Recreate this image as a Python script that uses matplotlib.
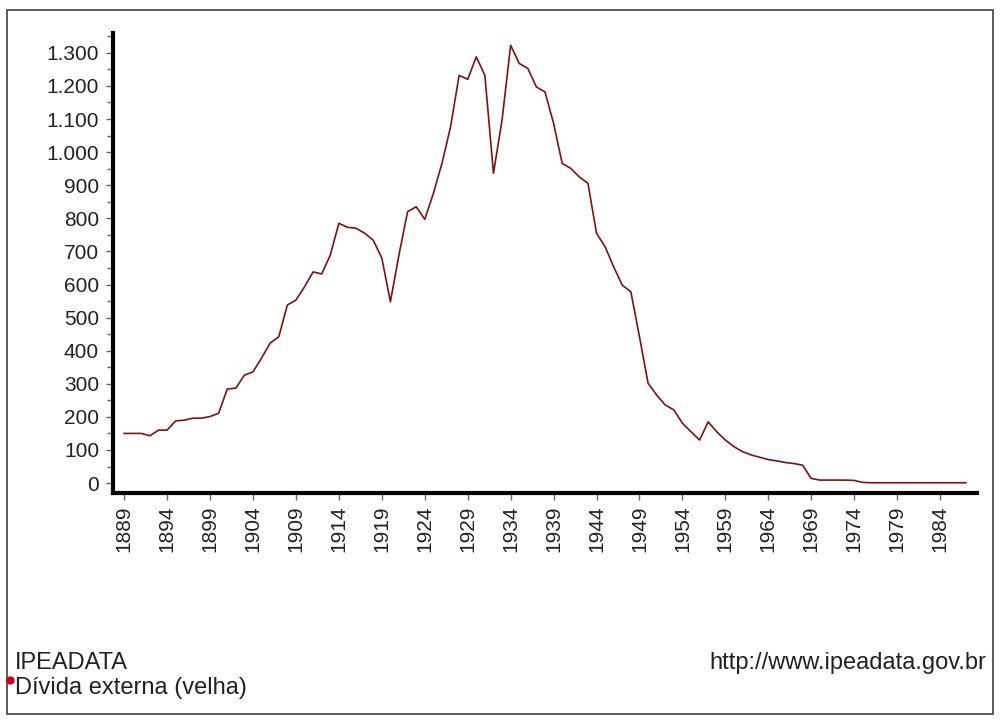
import matplotlib
matplotlib.use("Agg")
import matplotlib.pyplot as plt
from matplotlib.patches import Rectangle
from matplotlib.ticker import MultipleLocator, FixedLocator, FuncFormatter

years = list(range(1889, 1988))
values = [150, 150, 150, 143, 160, 160, 188, 190, 196, 196, 201, 211,
          284, 287, 326, 336, 378, 423, 442, 538, 553, 593, 638, 632,
          689, 785, 773, 770, 755, 734, 680, 548, 690, 820, 835, 797,
          875, 966, 1076, 1232, 1220, 1288, 1232, 936, 1097, 1323, 1268,
          1253, 1197, 1182, 1087, 966, 951, 925, 906, 755, 714, 653, 598,
          578, 442, 302, 266, 236, 221, 181, 155, 130, 185, 155, 130, 110,
          95, 85, 78, 71, 67, 62, 59, 54, 14, 9, 9, 9, 9, 8, 2, 1, 1, 1,
          1, 1, 1, 1, 1, 1, 1, 1, 1]
year_ticks = list(range(1889, 1988, 5))
y_ticks = list(range(0, 1301, 100))

W, H = 1000, 722
fig = plt.figure(figsize=(W / 100, H / 100), dpi=100)
fig.patch.set_facecolor("white")
plt.rcParams['font.family'] = ['Liberation Sans', 'DejaVu Sans']

# outer frame
fig.add_artist(Rectangle((7 / W, 1 - 714 / H), (993 - 7) / W, (714 - 10) / H,
                         transform=fig.transFigure, fill=False,
                         edgecolor="#404040", linewidth=1.2))

left, right, top, bottom = 113, 977, 33, 493
ax = fig.add_axes([left / W, 1 - bottom / H, (right - left) / W, (bottom - top) / H])
ax.plot(years, values, color="#7a1414", linewidth=1.2)

ax.set_xlim(1887.7, 1988.3)
ax.set_ylim(-30, 1360)
for s in ["top", "right"]:
    ax.spines[s].set_visible(False)
for s in ["left", "bottom"]:
    ax.spines[s].set_linewidth(3)
    ax.spines[s].set_color("black")

ax.yaxis.set_major_locator(FixedLocator(y_ticks))
ax.yaxis.set_minor_locator(MultipleLocator(50))
ax.yaxis.set_major_formatter(FuncFormatter(lambda v, p: f"{int(v):,}".replace(",", ".")))
ax.xaxis.set_major_locator(FixedLocator(year_ticks))
ax.set_xticklabels([str(y) for y in year_ticks], rotation=90)
ax.tick_params(axis="both", which="major", direction="out", length=5, width=1,
               color="#666666", labelsize=15, labelcolor="#222222")
ax.tick_params(axis="y", which="major", pad=5)
ax.tick_params(axis="x", which="major", pad=4)
ax.tick_params(axis="y", which="minor", direction="out", length=4, width=1, color="#666666")

fig.text(15 / W, 1 - 663 / H, "IPEADATA", fontsize=17, color="#222222", va="center", ha="left")
fig.text(15 / W, 1 - 688 / H, "Dívida externa (velha)", fontsize=17, color="#222222", va="center", ha="left")
fig.text(986 / W, 1 - 663 / H, "http://www.ipeadata.gov.br", fontsize=17, color="#222222", va="center", ha="right")
fig.add_artist(plt.Line2D([10 / W], [1 - 680 / H], marker="o", markersize=5,
                          color="#cc0020", transform=fig.transFigure, linestyle="none"))

fig.savefig("out.png", dpi=100)
